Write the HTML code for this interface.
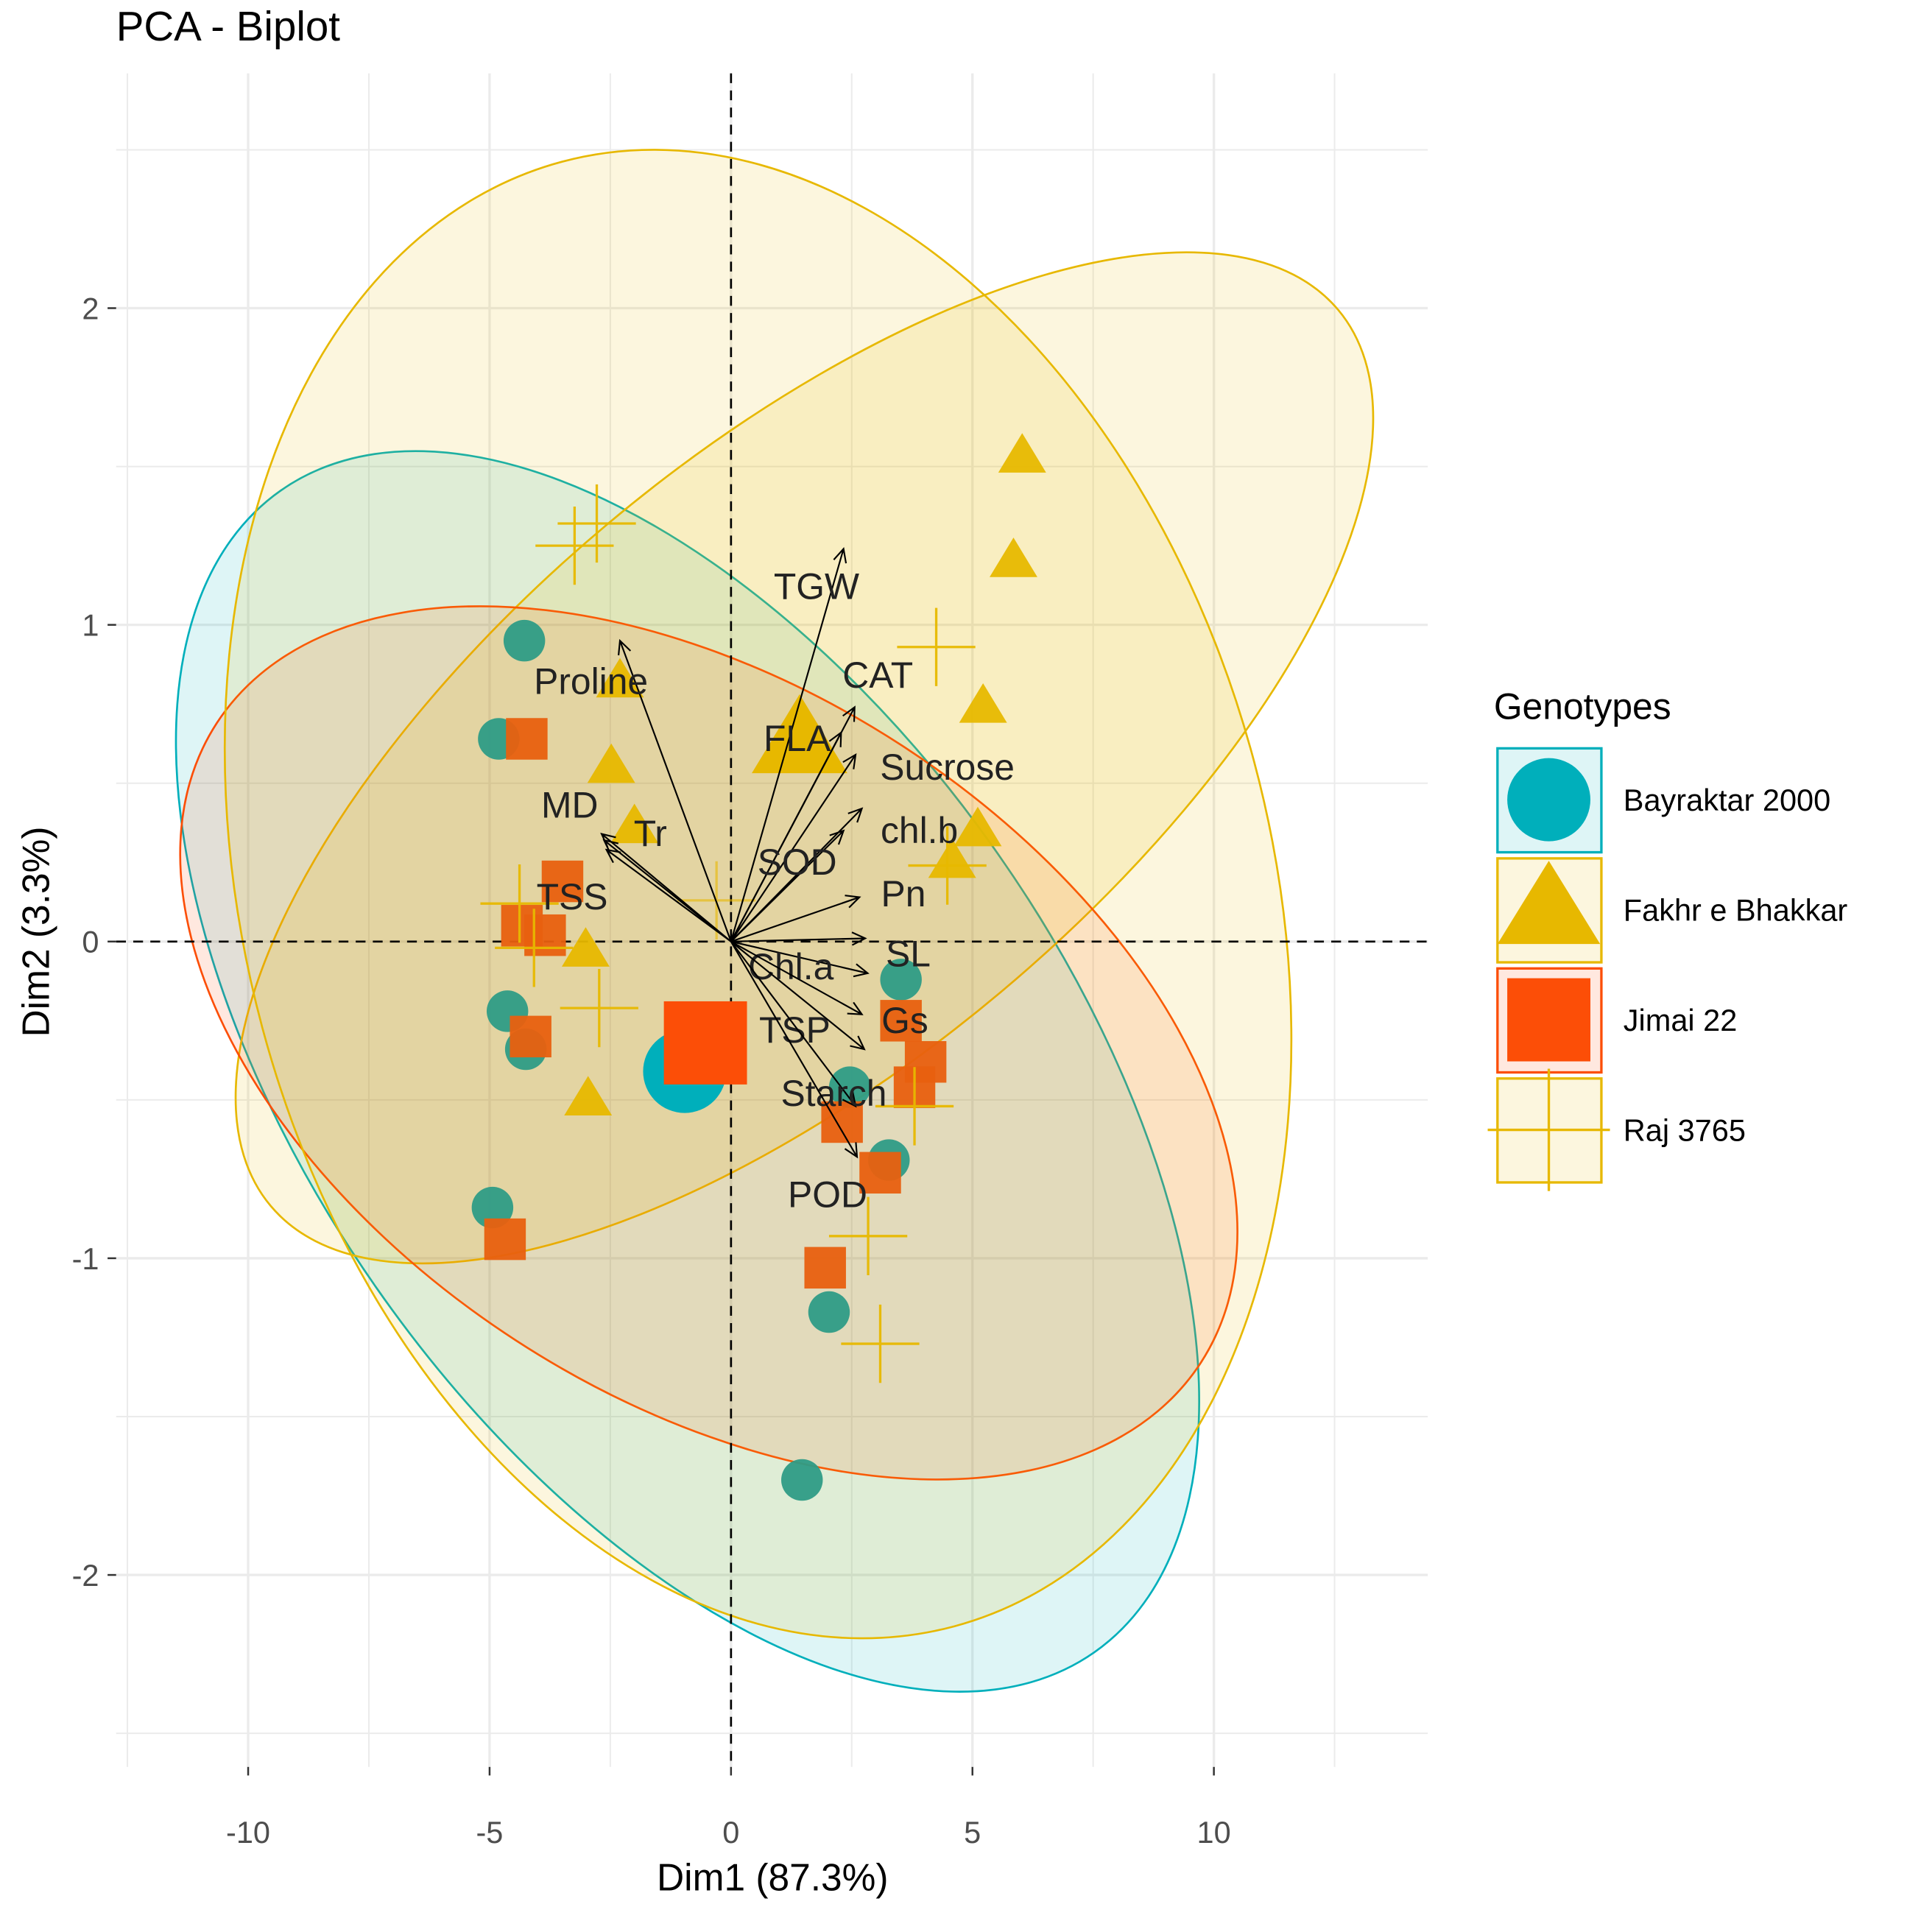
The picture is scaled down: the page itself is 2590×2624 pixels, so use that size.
<!DOCTYPE html>
<html><head><meta charset="utf-8"><style>
html,body{margin:0;padding:0;background:#fff}
svg{display:block}
text{font-family:"Liberation Sans",Arial,sans-serif}
</style></head><body>
<svg id="chart" width="2590" height="2624" viewBox="0 0 1560 1580" preserveAspectRatio="none" xmlns="http://www.w3.org/2000/svg">
<rect width="1560" height="1580" fill="#fff"/>
<g id="grid"></g>
<g id="ellipses"></g>
<g id="refs"></g>
<g id="points"></g>
<g id="arrows"></g>
<g id="axes"></g>
<text x="95" y="33" font-size="34" fill="#000">PCA - Biplot</text>
<text x="632" y="1546" font-size="31" text-anchor="middle" fill="#000">Dim1 (87.3%)</text>
<text transform="translate(40,762) rotate(-90)" font-size="31" text-anchor="middle" fill="#000">Dim2 (3.3%)</text>
<g id="legend"></g>
</svg>
<script>
const xTicks=[-10,-5,0,5,10];
const yTicks=[-2,-1,0,1,2];
const groups=["Bayraktar 2000","Fakhr e Bhakkar","Jimai 22","Raj 3765"];
const colors=["#00AFBB","#E7B800","#FC4E07","#E7B800"];
const bayX=[-4.28,-4.81,-4.63,-4.25,-4.94,1.47,2.03,3.52,2.46,3.27];
const bayY=[0.95,0.64,-0.22,-0.34,-0.84,-1.70,-1.17,-0.12,-0.46,-0.69];
const fakX=[6.03,5.85,5.22,5.11,4.58,-2.30,-2.48,-2.00,-3.01,-2.96];
const fakY=[1.53,1.20,0.74,0.35,0.25,0.82,0.55,0.36,-0.03,-0.50];
const jimX=[-4.23,-3.49,-4.33,-3.85,-4.15,-4.68,1.95,3.09,2.30,3.80,4.03,3.52];
const jimY=[0.64,0.19,0.05,0.02,-0.30,-0.94,-1.03,-0.73,-0.57,-0.46,-0.38,-0.25];
const rajX=[-2.78,-3.24,4.25,-2.73,-4.08,2.84,3.09,3.80,4.48,-4.38];
const rajY=[1.32,1.25,0.93,-0.21,-0.02,-0.93,-1.27,-0.52,0.24,0.12];
const meanX=[-0.96,1.42,-0.53,-0.3];
const meanY=[-0.41,0.63,-0.32,0.13];
const ellCx=[-0.90,1.52,-0.46,0.56];
const ellCy=[-0.41,0.58,-0.32,0.15];
const ellA=[580,570,480,620];
const ellB=[310,250,290,420];
const ellAng=[55,-40,33,75];
const varNames=["TGW","CAT","FLA","Sucrose","chl.b","SOD","Pn","SL","Chl.a","Gs","TSP","Starch","POD","Proline","MD","Tr","TSS"];
const varX=[2.33,2.56,2.28,2.58,2.71,2.33,2.66,2.78,2.83,2.71,2.76,2.58,2.61,-2.30,-2.68,-2.63,-2.58];
const varY=[1.24,0.74,0.66,0.59,0.42,0.35,0.14,0.01,-0.10,-0.23,-0.34,-0.52,-0.68,0.95,0.34,0.32,0.29];
const labX=[1.77,3.04,1.37,4.48,3.9,1.37,3.57,3.67,1.24,3.6,1.32,2.13,2.0,-2.9,-3.34,-1.67,-3.29];
const labY=[1.12,0.84,0.64,0.55,0.35,0.25,0.15,-0.04,-0.08,-0.25,-0.28,-0.48,-0.80,0.82,0.43,0.34,0.14];

const X=v=>598+v*39.5, Y=v=>770-v*259;
const NS="http://www.w3.org/2000/svg";
function mk(tag,attrs,parent){const e=document.createElementNS(NS,tag);for(const k in attrs)e.setAttribute(k,attrs[k]);parent.appendChild(e);return e;}
const grid=document.getElementById('grid');
const L=95,R=1168,T=60,B=1445;
for(let v=-12.5;v<=12.5;v+=2.5){const g=mk('line',{x1:X(v),x2:X(v),y1:T,y2:B,stroke:'#ebebeb','stroke-width':(v%5===0)?2:1.2},grid);

}
for(let v=-2.5;v<=2.5;v+=0.5){const g=mk('line',{x1:L,x2:R,y1:Y(v),y2:Y(v),stroke:'#ebebeb','stroke-width':(Math.abs(v%1)<1e-9)?2:1.2},grid);

}
const ell=document.getElementById('ellipses');
groups.forEach((gname,i)=>{const e=mk('ellipse',{cx:0,cy:0,rx:ellA[i],ry:ellB[i],transform:`translate(${X(ellCx[i])},${Y(ellCy[i])}) rotate(${ellAng[i]})`,fill:colors[i],'fill-opacity':0.13,stroke:colors[i],'stroke-width':1.6},ell);

});
const refs=document.getElementById('refs');
let r1=mk('line',{x1:X(0),x2:X(0),y1:T,y2:B,stroke:'#000','stroke-width':1.6,'stroke-dasharray':'8,6'},refs);


let r2=mk('line',{x1:L,x2:R,y1:Y(0),y2:Y(0),stroke:'#000','stroke-width':1.6,'stroke-dasharray':'8,6'},refs);


const pts=document.getElementById('points');
function shape(kind,x,y,s,col,op){
 let e;
 if(kind===0)e=mk('circle',{cx:x,cy:y,r:s,fill:'#2e9c86',opacity:op},pts);
 else if(kind===1)e=mk('polygon',{points:`${x},${y-s*1.15} ${x-s*1.15},${y+s*0.75} ${x+s*1.15},${y+s*0.75}`,fill:col,opacity:op},pts);
 else if(kind===2)e=mk('rect',{x:x-s,y:y-s,width:2*s,height:2*s,fill:'#e8600f',opacity:op},pts);
 else{e=mk('path',{d:`M${x-s*1.6},${y}H${x+s*1.6}M${x},${y-s*1.6}V${y+s*1.6}`,stroke:col,'stroke-width':2,fill:'none',opacity:op},pts);}
 return e;}
const sets=[[bayX,bayY],[fakX,fakY],[jimX,jimY],[rajX,rajY]];
sets.forEach((s,k)=>{s[0].forEach((v,j)=>{const e=shape(k,X(v),Y(s[1][j]),k===3?20:17,colors[k],0.95);

});});
meanX.forEach((v,k)=>{const e=shape(k,X(v),Y(meanY[k]),k===3?20:34,k===0?'#00AFBB':colors[k],k===3?0.6:1);
if(k===0)e.setAttribute('fill','#00AFBB');if(k===2)e.setAttribute('fill','#FC4E07');

});
const arr=document.getElementById('arrows');
varNames.forEach((n,i)=>{const x1=X(0),y1=Y(0),x2=X(varX[i]),y2=Y(varY[i]);
const a=Math.atan2(y2-y1,x2-x1),h=12,w=0.45;
const p=`M${x1},${y1}L${x2},${y2}M${x2-h*Math.cos(a-w)},${y2-h*Math.sin(a-w)}L${x2},${y2}L${x2-h*Math.cos(a+w)},${y2-h*Math.sin(a+w)}`;
const e=mk('path',{d:p,stroke:'#000','stroke-width':1.3,fill:'none'},arr);


const t=mk('text',{x:X(labX[i]),y:Y(labY[i])+10,'font-size':30,'text-anchor':'middle',fill:'#222'},arr);t.textContent=n;

});
const ax=document.getElementById('axes');
xTicks.forEach(v=>{const l=mk('line',{x1:X(v),x2:X(v),y1:B,y2:B+7,stroke:'#333','stroke-width':1.5},ax);


const t=mk('text',{x:X(v),y:B+62,'font-size':25,'text-anchor':'middle',fill:'#4d4d4d'},ax);t.textContent=v;

});
yTicks.forEach(v=>{const l=mk('line',{x1:L-7,x2:L,y1:Y(v),y2:Y(v),stroke:'#333','stroke-width':1.5},ax);


const t=mk('text',{x:L-14,y:Y(v)+9,'font-size':25,'text-anchor':'end',fill:'#4d4d4d'},ax);t.textContent=v;

});
const lg=document.getElementById('legend');
const lt=mk('text',{x:1222,y:588,'font-size':30,fill:'#000'},lg);lt.textContent='Genotypes';


groups.forEach((gname,k)=>{const y0=612+k*90;
const b=mk('rect',{x:1225,y:y0,width:85,height:85,fill:colors[k],'fill-opacity':0.13,stroke:colors[k],'stroke-width':2},lg);


const cx=1267,cy=y0+42;let e;
if(k===0)e=mk('circle',{cx:cx,cy:cy,r:34,fill:'#00AFBB'},lg);
else if(k===1)e=mk('polygon',{points:`${cx},${cy-40} ${cx-42},${cy+28} ${cx+42},${cy+28}`,fill:'#E7B800'},lg);
else if(k===2)e=mk('rect',{x:cx-34,y:cy-34,width:68,height:68,fill:'#FC4E07'},lg);
else e=mk('path',{d:`M${cx-50},${cy}H${cx+50}M${cx},${cy-50}V${cy+50}`,stroke:'#E7B800','stroke-width':2},lg);


const t=mk('text',{x:1328,y:cy+9,'font-size':25,fill:'#000'},lg);t.textContent=gname;

});
</script>
</body></html>
